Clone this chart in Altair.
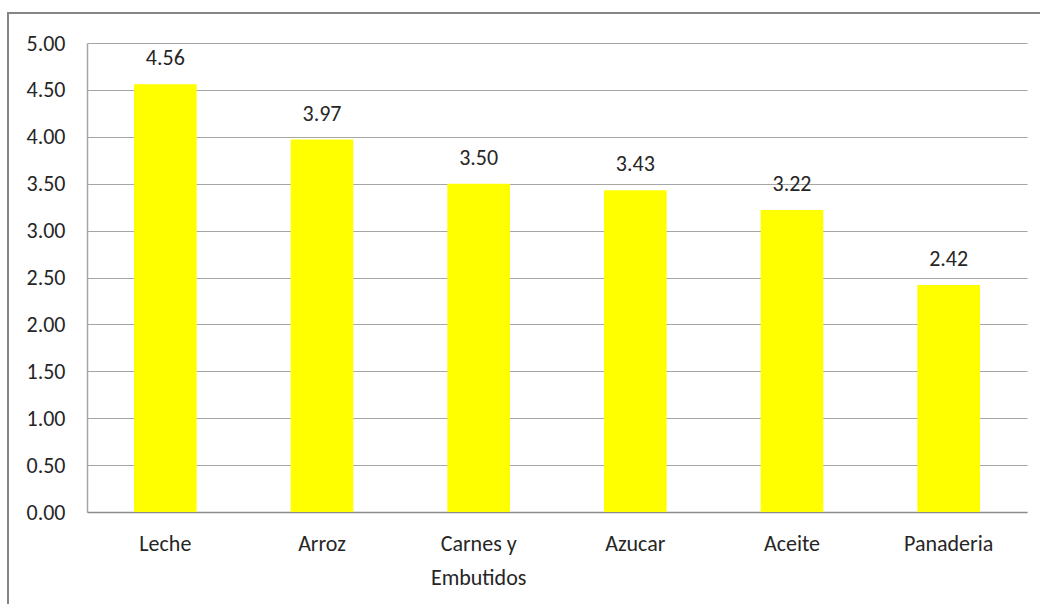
import altair as alt
import pandas as pd

# Average price per product group
productos = ["Leche", "Arroz", "Carnes y Embutidos", "Azucar", "Aceite", "Panaderia"]
valores = [4.56, 3.97, 3.50, 3.43, 3.22, 2.42]
marcas_y = [0, 0.5, 1.0, 1.5, 2.0, 2.5, 3.0, 3.5, 4.0, 4.5, 5.0]

df = pd.DataFrame({"producto": productos, "valor": valores})

FONT = "Carlito, Liberation Sans Narrow, Open Sans, sans-serif"
TEXT = "#262626"
SIZE = 22

x_enc = alt.X(
    "producto:N",
    sort=productos,
    title=None,
    scale=alt.Scale(paddingInner=0.6, paddingOuter=0.3),
    axis=alt.Axis(
        labelAngle=0,
        labelFontSize=SIZE,
        labelFont=FONT,
        labelColor=TEXT,
        labelPadding=21,
        labelLineHeight=34,
        labelBaseline="top",
        ticks=False,
        domainColor="#8c8c8c",
        domainWidth=1.5,
        labelExpr="datum.label == 'Carnes y Embutidos' ? ['Carnes y', 'Embutidos'] : datum.label",
    ),
)

y_enc = alt.Y(
    "valor:Q",
    title=None,
    scale=alt.Scale(domain=[0, 5], nice=False),
    axis=alt.Axis(
        values=marcas_y,
        format=".2f",
        labelFontSize=SIZE,
        labelFont=FONT,
        labelColor=TEXT,
        labelPadding=22,
        ticks=False,
        domainColor="#a6a6a6",
        domainWidth=1.5,
        gridColor="#a6a6a6",
        gridWidth=1.2,
    ),
)

barras = alt.Chart(df).mark_bar(color="#ffff00").encode(x=x_enc, y=y_enc)

etiquetas = alt.Chart(df).mark_text(
    baseline="alphabetic", dy=-19, fontSize=SIZE, font=FONT, color=TEXT
).encode(
    x=alt.X("producto:N", sort=productos),
    y="valor:Q",
    text=alt.Text("valor:Q", format=".2f"),
)

# Outer frame around the whole chart
marco = alt.Chart(df).mark_rect(
    fill=None, stroke="#868686", strokeWidth=2, clip=False
).encode(
    x=alt.value(-79), x2=alt.value(1100), y=alt.value(-30), y2=alt.value(700)
).transform_filter("datum.producto == 'Leche'")

chart = (
    alt.layer(barras, etiquetas, marco)
    .properties(
        width=940,
        height=469,
        autosize=alt.AutoSizeParams(type="none"),
        padding={"left": 87, "top": 43, "right": 13, "bottom": 92},
        background="white",
    )
    .configure_view(stroke=None)
)

chart.save("out.html", embed_options={"renderer": "svg", "actions": False})
